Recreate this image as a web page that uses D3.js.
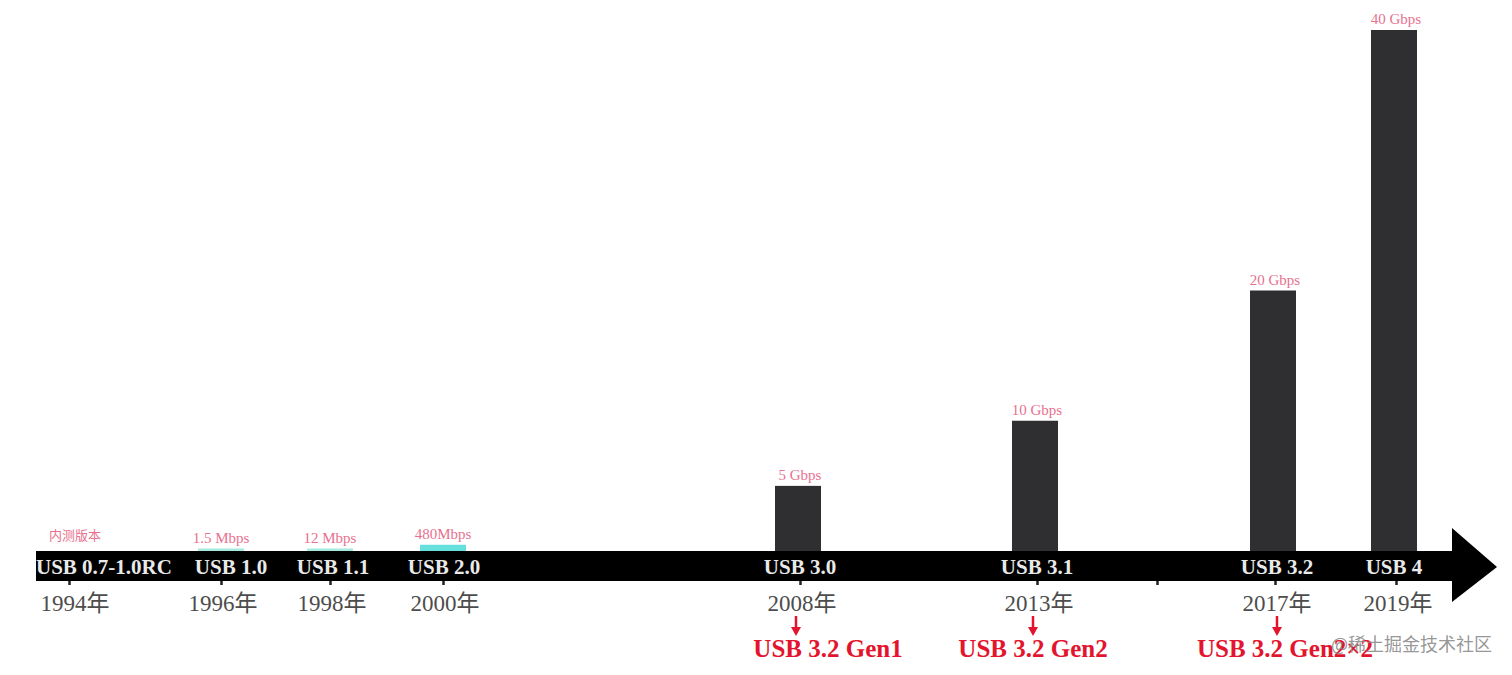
<!DOCTYPE html>
<html>
<head>
<meta charset="utf-8">
<script src="https://cdn.jsdelivr.net/npm/d3@7"></script>
<style>
  html, body { margin: 0; padding: 0; background: #fff; }
  svg { display: block; }
</style>
</head>
<body>
<svg id="chart" width="1512" height="675"></svg>
<script>
// ---- data ----
const years      = [1994, 1996, 1998, 2000, 2008, 2013, 2017, 2019];
const versions   = ["USB 0.7-1.0RC", "USB 1.0", "USB 1.1", "USB 2.0", "USB 3.0", "USB 3.1", "USB 3.2", "USB 4"];
const speedGbps  = [null, 0.0015, 0.012, 0.48, 5, 10, 20, 40];
const speedLabel = ["内测版本", "1.5 Mbps", "12 Mbps", "480Mbps", "5 Gbps", "10 Gbps", "20 Gbps", "40 Gbps"];
const yearLabels = ["1994年", "1996年", "1998年", "2000年", "2008年", "2013年", "2017年", "2019年"];
const extraTicks = [2015];
const renameYears  = [2008, 2013, 2017];
const renameLabels = ["USB 3.2 Gen1", "USB 3.2 Gen2", "USB 3.2 Gen2×2"];
const watermark = "@稀土掘金技术社区";

// ---- layout ----
const svg = d3.select("#chart");
const bandTop = 551, bandBottom = 581;
const bandLeft = 36, headLeft = 1452, tip = 1497, headTop = 528, headBottom = 602;

// piecewise time scale (the timeline is not evenly spaced)
const x = d3.scaleLinear()
  .domain([1994, 1996, 1998, 2000, 2008, 2013, 2015, 2017, 2019])
  .range([69, 221, 330, 443, 800, 1037, 1157, 1275, 1396]);
const y = d3.scaleLinear().domain([0, 40]).range([bandTop, 30]);

const serif = "'Liberation Serif', 'DejaVu Serif', 'Noto Sans CJK SC', serif";
const cjk = "'Noto Sans CJK SC', sans-serif";

const rows = years.map((yr, i) => ({ yr, v: versions[i], s: speedGbps[i], sl: speedLabel[i], yl: yearLabels[i] }));

// ---- bars ----
const barW = 46;
const bars = svg.append("g");
bars.selectAll("rect")
  .data(rows.filter(d => d.s != null))
  .join("rect")
  .attr("x", d => x(d.yr) - barW / 2 - (d.s >= 1 ? 2 : 0))
  .attr("width", barW)
  .attr("y", d => Math.min(y(d.s), bandTop - 2.5))
  .attr("height", d => Math.max(bandTop - y(d.s), 2.5))
  .attr("fill", d => d.s >= 1 ? "#2f2e31" : (d.s > 0.1 ? "#66e0dc" : "#a6e9df"));

// speed labels
svg.append("g").selectAll("text")
  .data(rows)
  .join("text")
  .attr("x", d => x(d.yr) + (d.s == null ? 6 : 0))
  .attr("y", d => d.s == null ? 540 : Math.min(y(d.s), bandTop - 2.5) - 6)
  .attr("text-anchor", "middle")
  .attr("font-family", d => d.s == null ? cjk : serif)
  .attr("font-size", d => d.s == null ? 13 : 15)
  .attr("fill", "#e8718f")
  .text(d => d.sl);

// ---- arrow band ----
svg.append("rect")
  .attr("x", bandLeft).attr("y", bandTop)
  .attr("width", headLeft - bandLeft).attr("height", bandBottom - bandTop)
  .attr("fill", "#000");
svg.append("path")
  .attr("d", `M${headLeft},${headTop}L${tip},${(bandTop + bandBottom) / 2 + 1}L${headLeft},${headBottom}Z`)
  .attr("fill", "#000");

// axis ticks below the band
const axis = d3.axisBottom(x)
  .tickValues(years.concat(extraTicks))
  .tickSize(4)
  .tickFormat("");
const axG = svg.append("g").attr("transform", `translate(0,${bandBottom})`).call(axis);
axG.select(".domain").remove();
axG.selectAll(".tick line").attr("stroke", "#222").attr("stroke-width", 2.5);

// version labels inside band
const labelDx = [0, 10, 3, 1, 0, 0, 2, -2];
const vl = svg.append("g").selectAll("text")
  .data(rows)
  .join("text")
  .attr("y", 574)
  .attr("text-anchor", "middle")
  .attr("font-family", serif)
  .attr("font-weight", "bold")
  .attr("font-size", 21)
  .attr("fill", "#e9e9e9")
  .text(d => d.v);
vl.each(function(d, i) {
  const w = this.getComputedTextLength();
  let cx = x(d.yr) + labelDx[i];
  cx = Math.max(cx, bandLeft + w / 2);
  d3.select(this).attr("x", cx);
});

// year labels
svg.append("g").selectAll("text")
  .data(rows)
  .join("text")
  .attr("x", (d, i) => x(d.yr) + (i === 0 ? 6 : 2))
  .attr("y", 611)
  .attr("text-anchor", "middle")
  .attr("font-family", serif)
  .attr("font-size", 23)
  .attr("fill", "#4d4d4d")
  .text(d => d.yl);

// ---- rename annotations (red) ----
const red = "#e3152e";
const redDx = [32, 0, 14];
const ann = svg.append("g");
renameYears.forEach((yr, i) => {
  const cx = x(yr) - 4 + (i === 2 ? 6 : 0);
  ann.append("line")
    .attr("x1", cx).attr("x2", cx).attr("y1", 616).attr("y2", 628)
    .attr("stroke", red).attr("stroke-width", 2.5);
  ann.append("path")
    .attr("d", `M${cx - 5},${627}L${cx + 5},${627}L${cx},${636}Z`)
    .attr("fill", red);
  ann.append("text")
    .attr("x", cx + redDx[i] - (i === 2 ? 6 : 0))
    .attr("y", 657)
    .attr("text-anchor", "middle")
    .attr("font-family", serif)
    .attr("font-weight", "bold")
    .attr("font-size", 25)
    .attr("fill", red)
    .text(renameLabels[i]);
});

// watermark
svg.append("text")
  .attr("x", 1492).attr("y", 651)
  .attr("text-anchor", "end")
  .attr("font-family", cjk)
  .attr("font-size", 18)
  .attr("fill", "#8a8a8a")
  .attr("fill-opacity", 0.9)
  .text(watermark);
</script>
</body>
</html>
